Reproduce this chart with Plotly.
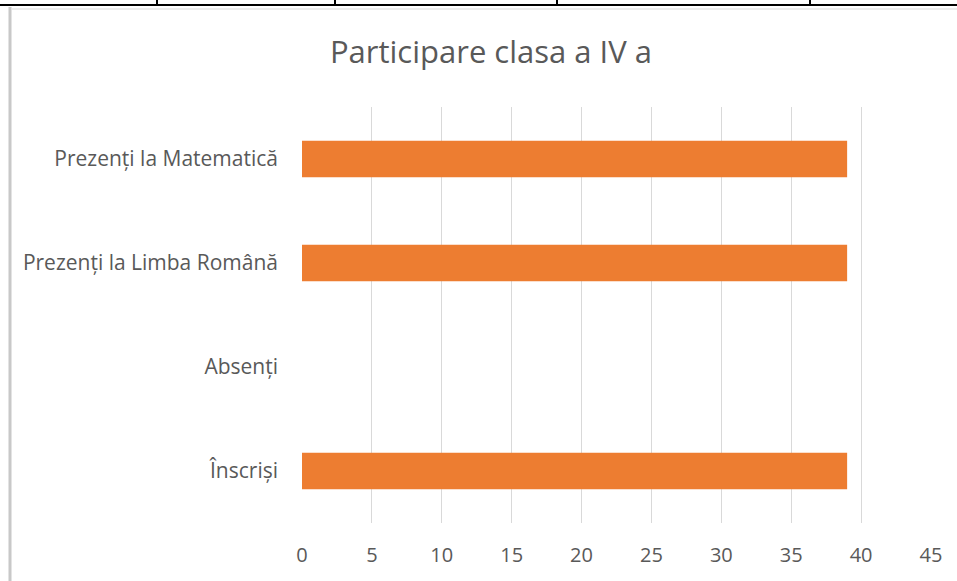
import plotly.graph_objects as go

categories = ["Înscriși", "Absenți", "Prezenți la Limba Română", "Prezenți la Matematică"]
values = [39, 0, 39, 39]
x_ticks = [0, 5, 10, 15, 20, 25, 30, 35, 40, 45]
title_text = "Participare clasa a IV a"

fig = go.Figure(go.Bar(
    y=categories, x=values, orientation="h",
    marker=dict(color="#ED7D31", line=dict(width=0)),
))

W, H = 957, 581
L, R, T, B = 302, 26, 107, 58
PW, PH = W - L - R, H - T - B

font_family = "Open Sans, Noto Sans, sans-serif"
fig.update_layout(
    width=W, height=H,
    paper_bgcolor="white", plot_bgcolor="white",
    margin=dict(l=L, r=R, t=T, b=B),
    bargap=0.65,
    showlegend=False,
    title=dict(text=title_text, x=491 / W, xanchor="center", y=1 - 52 / H, yanchor="middle",
               font=dict(family=font_family, size=31, color="#595959")),
    xaxis=dict(range=[0, 45], tickvals=x_ticks, showgrid=True, gridcolor="#d9d9d9", gridwidth=1,
               zeroline=False, showline=False,
               tickfont=dict(family=font_family, size=20, color="#595959"),
               ticklabelstandoff=18),
    yaxis=dict(categoryorder="array", categoryarray=categories, showgrid=False, zeroline=False,
               showline=False, tickfont=dict(family=font_family, size=21, color="#595959"),
               ticklabelstandoff=23),
)

def px(xp):
    return (xp - L) / PW

def py(yp):
    return 1 - (yp - T) / PH

shapes = [
    dict(type="line", xref="paper", yref="paper", x0=px(0), x1=px(957), y0=py(5), y1=py(5),
         line=dict(color="black", width=2)),
    dict(type="line", xref="paper", yref="paper", x0=px(12), x1=px(957), y0=py(9), y1=py(9),
         line=dict(color="#ececec", width=2)),
    dict(type="line", xref="paper", yref="paper", x0=px(10), x1=px(10), y0=py(581), y1=py(7),
         line=dict(color="#c8c8c8", width=3)),
]
for xv in [157, 335, 557, 810]:
    shapes.append(dict(type="line", xref="paper", yref="paper", x0=px(xv), x1=px(xv),
                       y0=py(5), y1=py(-2), line=dict(color="black", width=2)))
fig.update_layout(shapes=shapes)

fig.write_html("out.html", config={"displayModeBar": False},
               post_script="document.body.style.margin='0';document.body.style.overflow='hidden';")
